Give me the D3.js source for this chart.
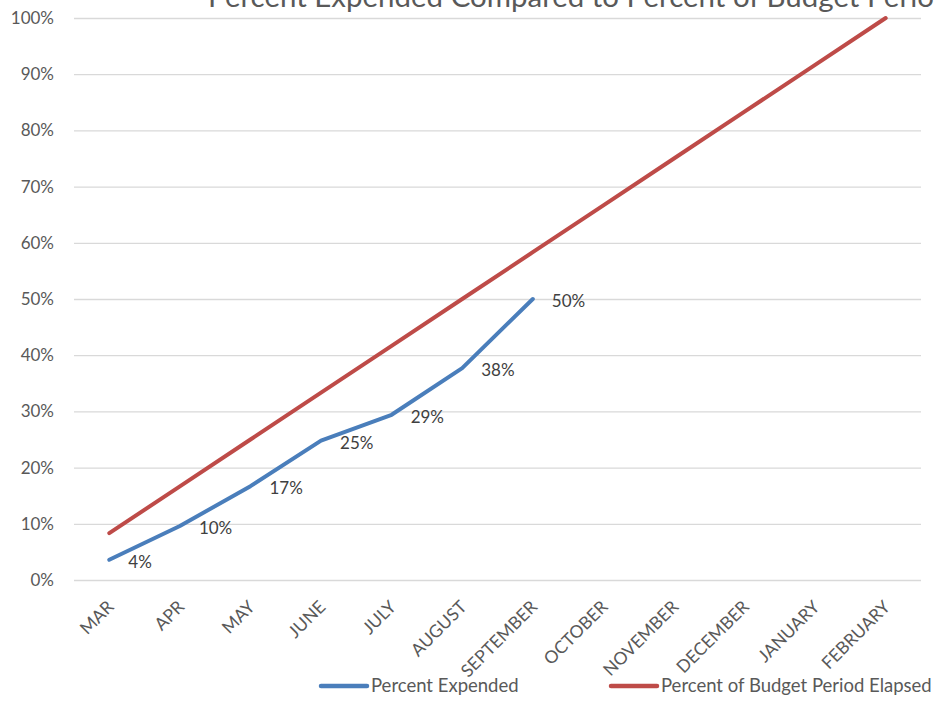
<!DOCTYPE html>
<html>
<head>
<meta charset="utf-8">
<script src="https://cdn.jsdelivr.net/npm/d3@7"></script>
<style>
  html, body { margin: 0; padding: 0; background: #fff; }
  svg { display: block; }
  text { font-family: Lato, "Open Sans", sans-serif; }
</style>
</head>
<body>
<svg id="chart" width="934" height="703"></svg>
<script>
const months = ["MAR","APR","MAY","JUNE","JULY","AUGUST","SEPTEMBER","OCTOBER","NOVEMBER","DECEMBER","JANUARY","FEBRUARY"];
const expended = [0.036, 0.096, 0.167, 0.248, 0.294, 0.377, 0.50];
const expendedLabels = ["4%","10%","17%","25%","29%","38%","50%"];
const elapsed = [0.0833, 0.1667, 0.25, 0.3333, 0.4167, 0.50, 0.5833, 0.6667, 0.75, 0.8333, 0.9167, 1.0];
const yTicks = [0, 0.1, 0.2, 0.3, 0.4, 0.5, 0.6, 0.7, 0.8, 0.9, 1.0];
const seriesNames = ["Percent Expended", "Percent of Budget Period Elapsed"];
const titleText = "Percent Expended Compared to Percent of Budget Period Elapsed";

const svg = d3.select("#chart");
const mLeft = 74, mRight = 921, mTop = 18, mBottom = 580;
const blue = "#4a7ebb", red = "#be4b48";
const textColor = "#595959";

const x = d3.scalePoint().domain(months).range([mLeft, mRight]).padding(0.5);
const y = d3.scaleLinear().domain([0, 1]).range([mBottom, mTop]);

// title (runs off the right edge, as in the reference)
const title = svg.append("text").attr("x", 208).attr("y", 7)
  .attr("font-size", 24).attr("fill", textColor).text("Percent Expended Compared to Percent of Budget Perio");
const wPrefix = title.node().getComputedTextLength();
title.attr("font-size", 24 * 726 / wPrefix).text(titleText);

// gridlines + y labels
const yAxis = svg.append("g").attr("transform", `translate(${mLeft},0)`)
  .call(d3.axisLeft(y).tickValues(yTicks).tickSize(-(mRight - mLeft)).tickFormat(d3.format(".0%")));
yAxis.select(".domain").remove();
yAxis.selectAll(".tick line").attr("stroke", "#d9d9d9").attr("stroke-width", 1.3);
yAxis.selectAll(".tick text").attr("x", -20).attr("fill", textColor)
  .attr("font-size", 17).attr("font-family", "Lato, sans-serif");

// x labels
const xAxis = svg.append("g").attr("transform", `translate(0,${mBottom})`)
  .call(d3.axisBottom(x).tickSize(0));
xAxis.select(".domain").remove();
xAxis.selectAll(".tick text")
  .attr("fill", textColor).attr("font-size", 17.5).attr("font-family", "Lato, sans-serif")
  .attr("text-anchor", "end")
  .attr("transform", "translate(5,28) rotate(-45)")
  .attr("dy", 0).attr("y", 0).attr("x", 0);

const line = d3.line().x((d, i) => x(months[i])).y(d => y(d));

svg.append("path").datum(elapsed).attr("d", line)
  .attr("fill", "none").attr("stroke", red).attr("stroke-width", 4)
  .attr("stroke-linecap", "round").attr("stroke-linejoin", "round");
svg.append("path").datum(expended).attr("d", line)
  .attr("fill", "none").attr("stroke", blue).attr("stroke-width", 4)
  .attr("stroke-linecap", "round").attr("stroke-linejoin", "round");

// data labels
svg.append("g").selectAll("text").data(expended).join("text")
  .attr("x", (d, i) => x(months[i]) + 19)
  .attr("y", d => y(d) + 2)
  .attr("dy", "0.35em")
  .attr("font-size", 17).attr("fill", "#404040")
  .text((d, i) => expendedLabels[i]);

// legend
const legendItems = [
  { name: seriesNames[0], color: blue, x0: 321 },
  { name: seriesNames[1], color: red, x0: 611 }
];
const lg = svg.append("g");
legendItems.forEach(it => {
  lg.append("line").attr("x1", it.x0).attr("x2", it.x0 + 46)
    .attr("y1", 686).attr("y2", 686)
    .attr("stroke", it.color).attr("stroke-width", 4.5).attr("stroke-linecap", "round");
  lg.append("text").attr("x", it.x0 + 50).attr("y", 686).attr("dy", "0.35em")
    .attr("font-size", 18.5).attr("fill", textColor).text(it.name);
});
</script>
</body>
</html>
